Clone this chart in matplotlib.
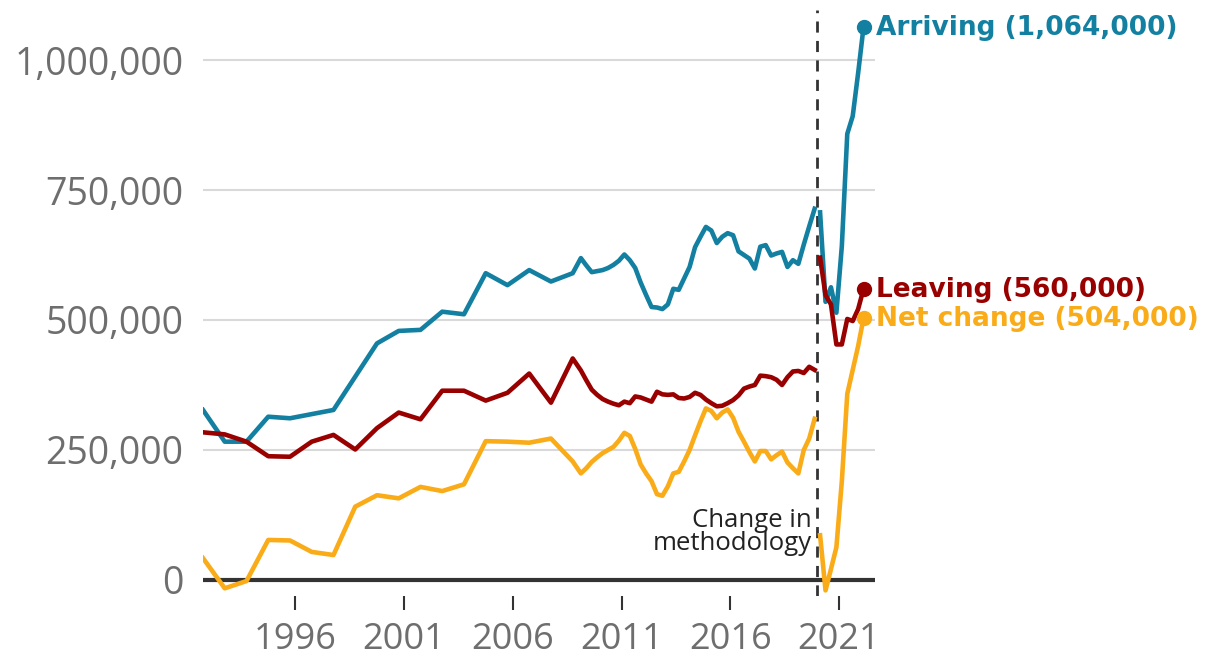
import matplotlib
matplotlib.use("Agg")
import matplotlib.pyplot as plt
import numpy as np
from matplotlib.ticker import FuncFormatter

plt.rcParams['font.family'] = ['Open Sans', 'DejaVu Sans']

# old method: calendar years 1991-2008, then rolling quarters to end of 2019
annual_years = np.arange(1991, 2009)
quarters_old = np.arange(2009.125, 2020.0, 0.25)
# new method: rolling quarters 2020-2022
quarters_new = np.arange(2020.125, 2022.2, 0.25)

# values in thousands
arriving_annual = [327, 266, 266, 314, 311, 319, 327, 391, 455, 479, 481, 516, 511, 590, 567, 596, 574, 590]
leaving_annual = [284, 280, 266, 238, 237, 266, 279, 251, 292, 322, 309, 364, 364, 345, 360, 397, 341, 426]
net_annual = [42, -16, -2, 77, 76, 54, 48, 141, 163, 157, 179, 171, 184, 267, 266, 264, 272, 228]

arriving_q = [619, 605, 592, 594, 596, 600, 606, 614, 626, 615, 600, 572, 548, 525, 524,
              521, 530, 560, 558, 580, 602, 640, 660, 679, 672, 648, 660, 667, 663, 632,
              625, 618, 599, 641, 644, 624, 628, 631, 602, 615, 608, 645, 680, 714]
leaving_q = [403, 384, 366, 356, 348, 343, 339, 336, 343, 340, 353, 351, 347, 343, 362,
             357, 356, 357, 350, 349, 352, 360, 356, 347, 340, 334, 335, 340, 346, 355,
             368, 372, 375, 393, 392, 390, 385, 375, 390, 401, 402, 398, 410, 404]
net_q = [205, 215, 227, 236, 244, 250, 256, 268, 283, 277, 252, 222, 205, 190, 165,
         162, 180, 205, 208, 228, 250, 278, 305, 330, 325, 311, 322, 328, 312, 285,
         266, 246, 228, 248, 248, 232, 240, 247, 226, 215, 205, 250, 272, 310]

arriving_new = [707, 535, 563, 514, 642, 858, 892, 975, 1064]
leaving_new = [620, 548, 530, 453, 453, 502, 498, 521, 560]
net_new = [86, -20, 21, 63, 190, 358, 404, 450, 504]

labels = ["Arriving (1,064,000)", "Leaving (560,000)", "Net change (504,000)"]
colors = ['#1380A1', '#990000', '#FAAB18']
method_change = 2019.98

x_old = np.concatenate([annual_years + 0.75, quarters_old])
old_series = [arriving_annual + arriving_q, leaving_annual + leaving_q, net_annual + net_q]
new_series = [arriving_new, leaving_new, net_new]

fig = plt.figure(figsize=(12.1, 6.57), dpi=100)
ax = fig.add_axes([203/1210, 61/657, 672/1210, 596/657])

for old, new, c, lab in zip(old_series, new_series, colors, labels):
    ax.plot(x_old, old, color=c, lw=3.3, solid_joinstyle='round', zorder=4)
    ax.plot(quarters_new, new, color=c, lw=3.3, solid_joinstyle='round', zorder=4)
    ax.plot(quarters_new[-1], new[-1], 'o', color=c, ms=10, zorder=5, clip_on=False)
    ax.annotate(lab, xy=(quarters_new[-1], new[-1]), xytext=(9, -1), textcoords='offset points',
                ha='left', va='center', fontsize=19, fontweight='bold', color=c,
                family=['DejaVu Sans'], annotation_clip=False)

ax.axhline(0, color='#333333', lw=3, zorder=3)
ax.axvline(method_change, ymin=0, ymax=0.983, color='#333333', lw=2, dashes=(4, 3), zorder=3)
ax.text(2019.75, 92, "Change in\nmethodology", ha='right', va='center', fontsize=18.5,
        color='#222222', linespacing=0.9)

ax.set_xlim(1991.75, 2022.65)
ax.set_ylim(-30.8, 1115.4)
ax.set_xticks([1996, 2001, 2006, 2011, 2016, 2021])
ax.set_yticks([0, 250, 500, 750, 1000])
ax.yaxis.set_major_formatter(FuncFormatter(lambda v, p: "{:,}".format(int(v * 1000))))
ax.grid(axis='y', color='#d9d9d9', lw=1.5, zorder=1)
ax.tick_params(axis='x', length=10, width=1.5, color='#333333', pad=9,
               labelsize=26, labelcolor='#6e6e6e')
ax.tick_params(axis='y', length=0, pad=14, labelsize=27, labelcolor='#6e6e6e')
for s in ax.spines.values():
    s.set_visible(False)

fig.savefig("out.png", dpi=100)
